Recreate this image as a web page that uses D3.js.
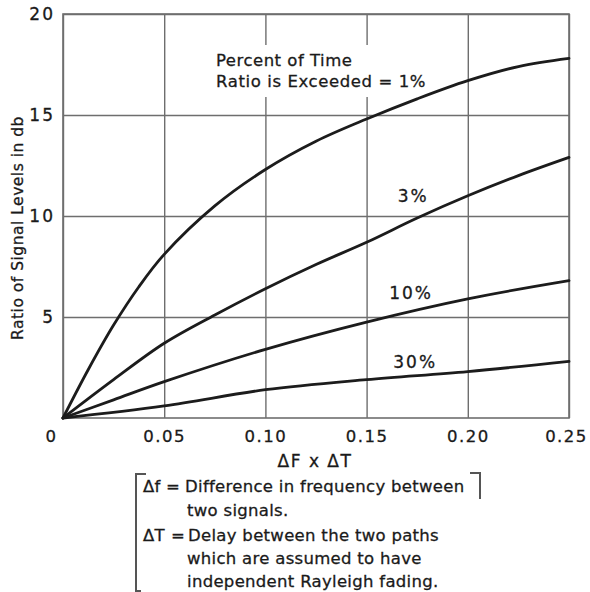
<!DOCTYPE html>
<html>
<head>
<meta charset="utf-8">
<script src="https://cdn.jsdelivr.net/npm/d3@7"></script>
<style>
  body { margin: 0; background: #fff; }
  svg text { font-family: "DejaVu Sans", sans-serif; fill: #1a1a1a; stroke: #1a1a1a; stroke-width: 0.3px; }
</style>
</head>
<body>
<script>
// values
let xTicks = [0, 0.05, 0.10, 0.15, 0.20, 0.25];
let yTicks = [5, 10, 15, 20];

let curve1 = [[0,0],[0.0125,2.4],[0.025,4.6],[0.0375,6.5],[0.05,8.1],[0.075,10.5],[0.10,12.3],[0.125,13.7],[0.15,14.8],[0.175,15.8],[0.20,16.7],[0.225,17.4],[0.25,17.8]];
let curve3 = [[0,0],[0.025,1.9],[0.05,3.7],[0.075,5.1],[0.10,6.4],[0.125,7.6],[0.15,8.7],[0.175,9.9],[0.20,11.0],[0.225,12.0],[0.25,12.9]];
let curve10 = [[0,0],[0.025,0.9],[0.05,1.8],[0.10,3.4],[0.15,4.75],[0.20,5.9],[0.25,6.8]];
let curve30 = [[0,0],[0.05,0.6],[0.10,1.4],[0.15,1.9],[0.20,2.3],[0.25,2.8]];

let curveLabels = [
  {text: "3%", x: 0.173, y: 10.7},
  {text: "10%", x: 0.172, y: 5.9},
  {text: "30%", x: 0.174, y: 2.5}
];

let legendLines = [
  {key: "\u0394f", eq: 166, body: "Difference in frequency between", bx: 185},
  {key: "", body: "two signals."},
  {key: "\u0394T", eq: 171, body: "Delay between the two paths", bx: 188},
  {key: "", body: "which are assumed to have"},
  {key: "", body: "independent Rayleigh fading."}
];

let width = 590,
    height = 592;

let x = d3.scaleLinear().domain([0, 0.25]).range([63, 569]);
let y = d3.scaleLinear().domain([0, 20]).range([418, 14]);

let svg = d3.select("body").append("svg")
    .attr("width", width)
    .attr("height", height);

let gridColor = "#6e6e6e";

// vertical grid
svg.append("g")
    .attr("transform", "translate(0,418)")
    .call(d3.axisBottom(x).tickValues(xTicks).tickSize(-404).tickFormat(""))
    .call(g => g.select(".domain").remove())
    .call(g => g.selectAll("line").attr("stroke", gridColor).attr("stroke-width", 1.4));

// horizontal grid
svg.append("g")
    .attr("transform", "translate(63,0)")
    .call(d3.axisLeft(y).tickValues(yTicks).tickSize(-506).tickFormat(""))
    .call(g => g.select(".domain").remove())
    .call(g => g.selectAll("line").attr("stroke", gridColor).attr("stroke-width", 1.4));

// frame
svg.append("rect")
    .attr("x", x(0)).attr("y", y(20))
    .attr("width", x(0.25) - x(0)).attr("height", y(0) - y(20))
    .attr("fill", "none").attr("stroke", gridColor).attr("stroke-width", 1.6);

// white patch behind the top label (grid is broken there)
svg.append("rect")
    .attr("x", 212).attr("y", 45).attr("width", 222).attr("height", 52)
    .attr("fill", "#fff");

// x tick labels
svg.append("g")
    .attr("transform", "translate(0,418)")
    .call(d3.axisBottom(x).tickValues(xTicks).tickSize(0).tickPadding(12)
        .tickFormat(d => d === 0 ? "0" : d3.format(".2f")(d)))
    .call(g => g.select(".domain").remove())
    .call(g => g.selectAll("text")
        .attr("font-size", 16.5).attr("letter-spacing", 1.5)
        .attr("fill", "#1a1a1a")
        .attr("dx", d => d === 0 ? -12 : (d === 0.25 ? -3 : 0)));

// y tick labels
svg.append("g")
    .attr("transform", "translate(63,0)")
    .call(d3.axisLeft(y).tickValues(yTicks).tickSize(0).tickPadding(8))
    .call(g => g.select(".domain").remove())
    .call(g => g.selectAll("text")
        .attr("font-size", 17).attr("letter-spacing", 2)
        .attr("fill", "#1a1a1a"));

// curves
let line = d3.line()
    .x(d => x(d[0]))
    .y(d => y(d[1]))
    .curve(d3.curveCatmullRom.alpha(0.5));

svg.append("g")
    .selectAll("path")
    .data([curve1, curve3, curve10, curve30])
    .enter()
    .append("path")
    .attr("d", line)
    .attr("fill", "none")
    .attr("stroke", "#1c1c1c")
    .attr("stroke-width", 2.8)
    .attr("stroke-linecap", "round");

// curve labels
svg.append("g")
    .selectAll("text")
    .data(curveLabels)
    .enter()
    .append("text")
    .attr("x", d => x(d.x))
    .attr("y", d => y(d.y))
    .attr("text-anchor", "middle")
    .attr("font-size", 17)
    .attr("letter-spacing", 2)
    .text(d => d.text);

svg.append("text")
    .attr("x", 216).attr("y", 66)
    .attr("font-size", 16.5).attr("letter-spacing", 0.5)
    .text("Percent of Time");
svg.append("text")
    .attr("x", 216).attr("y", 87)
    .attr("font-size", 16.5).attr("letter-spacing", 0.6)
    .text("Ratio is Exceeded = 1%");

// axis titles
svg.append("text")
    .attr("transform", "translate(23,228) rotate(-90)")
    .attr("text-anchor", "middle")
    .attr("font-size", 15.5).attr("letter-spacing", 0.5)
    .text("Ratio of Signal Levels in db");

svg.append("text")
    .attr("x", 315).attr("y", 467)
    .attr("text-anchor", "middle")
    .attr("font-size", 17).attr("letter-spacing", 1.5)
    .text("\u0394F x \u0394T");

// legend bracket box
let br = svg.append("g").attr("fill", "none").attr("stroke", "#555").attr("stroke-width", 2);
br.append("path").attr("d", "M146,474 H136 V591 H141");
br.append("path").attr("d", "M470,473 H480 V499");

let leg = svg.append("g").attr("font-size", 16.5).attr("letter-spacing", 0.3);
let baselines = [492, 516, 541, 564, 587];
legendLines.forEach((l, i) => {
  if (l.key) {
    leg.append("text").attr("x", 143).attr("y", baselines[i]).text(l.key);
    leg.append("text").attr("x", l.eq).attr("y", baselines[i]).text("=");
    leg.append("text").attr("x", l.bx).attr("y", baselines[i]).text(l.body);
  } else {
    leg.append("text").attr("x", 187).attr("y", baselines[i]).text(l.body);
  }
});
</script>
</body>
</html>
